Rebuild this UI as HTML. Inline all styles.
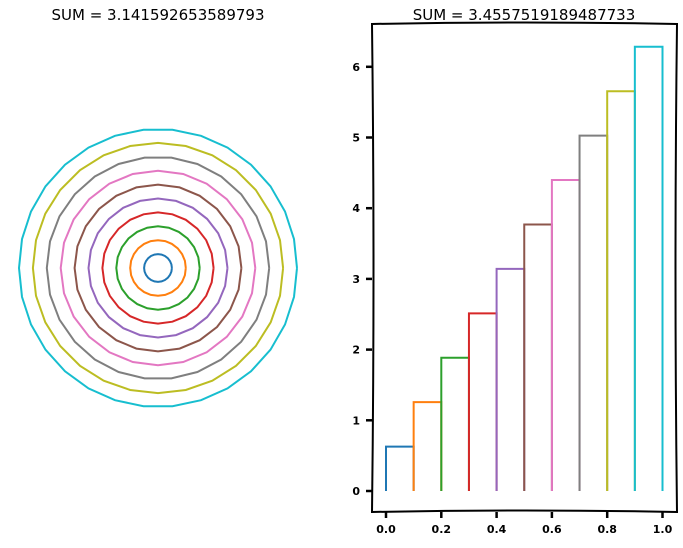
<!DOCTYPE html>
<html><head><meta charset="utf-8"><style>
body{margin:0;background:#fff;}
svg text{font-family:"Comic Sans MS","DejaVu Sans","Liberation Sans",sans-serif;}
</style></head><body>
<svg id="chart" width="683" height="543" viewBox="0 0 683 543" xmlns="http://www.w3.org/2000/svg">
<text x="158" y="20" text-anchor="middle" font-size="15" fill="#000">SUM = 3.141592653589793</text>
<text x="524" y="20" text-anchor="middle" font-size="15" fill="#000">SUM = 3.4557519189487733</text>
<g id="left"></g>
<g id="right">
<path d="M372,24 Q375,270 372,512 Q525,509 677,512 Q674,270 677,24 Q525,21 372,24 Z" fill="none" stroke="#000" stroke-width="2"/>
</g>
</svg>
<script>
const colors=['#1f77b4','#ff7f0e','#2ca02c','#d62728','#9467bd','#8c564b','#e377c2','#7f7f7f','#bcbd22','#17becf'];
const radii=[0.1,0.2,0.3,0.4,0.5,0.6,0.7,0.8,0.9,1.0];
const sides=[24,24,24,24,24,24,24,26,28,30];
const barX=[0.0,0.1,0.2,0.3,0.4,0.5,0.6,0.7,0.8,0.9];
const barH=[0.628,1.257,1.885,2.513,3.142,3.770,4.398,5.027,5.655,6.283];
const yTicks=[0,1,2,3,4,5,6];
const xTicks=[0.0,0.2,0.4,0.6,0.8,1.0];
const xTickLabels=['0.0','0.2','0.4','0.6','0.8','1.0'];
const NS='http://www.w3.org/2000/svg';
const L=document.getElementById('left'),R=document.getElementById('right');
const cx=158,cy=268,rs=139;
function mk(t,a,p){const e=document.createElementNS(NS,t);for(const k in a)e.setAttribute(k,a[k]);p.appendChild(e);return e;}
radii.forEach((r,i)=>{
  const n=sides[i];let pts=[];
  for(let k=0;k<=n;k++){const a=2*Math.PI*k/n;pts.push((cx+r*rs*Math.cos(a)).toFixed(1)+','+(cy+r*rs*Math.sin(a)).toFixed(1));}
  const p=mk('polyline',{points:pts.join(' '),fill:'none',stroke:colors[i],'stroke-width':2},L);
  
  
});
const xs=v=>386+v*276.5, ys=v=>491-v*70.7;
barX.forEach((x,i)=>{
  const d=`M${xs(x)},${ys(0)} L${xs(x)},${ys(barH[i])} L${xs(x+0.1)},${ys(barH[i])} L${xs(x+0.1)},${ys(0)}`;
  const p=mk('path',{d:d,fill:'none',stroke:colors[i],'stroke-width':2},R);
  
  
});
yTicks.forEach(v=>{
  const t=mk('line',{x1:366,x2:372,y1:ys(v),y2:ys(v),stroke:'#000','stroke-width':2.5},R);
  
  
  const l=mk('text',{x:360,y:ys(v)+4,'text-anchor':'end','font-size':11,'font-weight':'bold'},R);l.textContent=v;
  
  
});
xTicks.forEach((v,i)=>{
  const t=mk('line',{x1:xs(v),x2:xs(v),y1:512,y2:518,stroke:'#000','stroke-width':2.5},R);
  
  
  const l=mk('text',{x:xs(v),y:533,'text-anchor':'middle','font-size':11,'font-weight':'bold'},R);l.textContent=xTickLabels[i];
  
  
});
</script>
</body></html>
